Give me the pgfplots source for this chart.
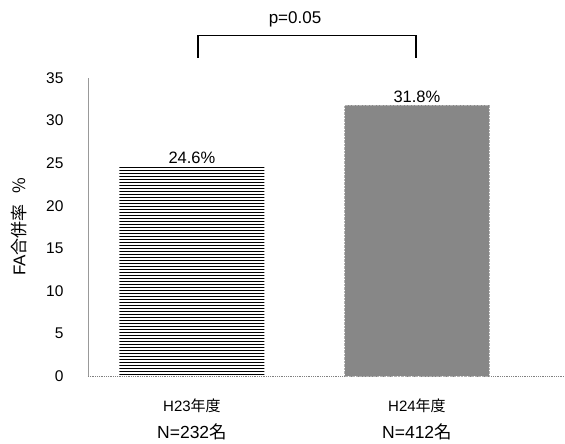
\documentclass[border=0pt]{standalone}
\usepackage{pgfplots}
\pgfplotsset{compat=1.18}
\usetikzlibrary{patterns}
\usepackage{fontspec}
\setmainfont{Liberation Sans}
\newfontfamily\cjk{Noto Sans CJK JP}
\newcommand\nl{\fontsize{17.5pt}{19pt}\selectfont}
\begin{document}
\fontsize{13pt}{15pt}\selectfont
\begin{tikzpicture}
\begin{axis}[
  scale only axis, width=477pt, height=298pt,
  at={(0pt,0pt)}, anchor=south west,
  xmin=-0.462, xmax=1.658, ymin=0, ymax=35,
  ytick={0,5,...,35},
  xtick={0,1},
  xticklabels={{H23\cjk{年度}\\[10pt]{\nl N=232\cjk{名}}},{H24\cjk{年度}\\[10pt]{\nl N=412\cjk{名}}}},
  xticklabel style={align=center, font=\fontsize{15pt}{17pt}\selectfont},
  x tick label style={yshift=-18pt},
  yticklabel style={xshift=-20pt, font=\fontsize{15.5pt}{17pt}\selectfont},
  major tick length=0pt,
  axis x line*=bottom, axis y line*=left,
  x axis line style={-, gray, densely dotted, line width=0.8pt},
  y axis line style={-, gray!80, line width=0.6pt},
  ylabel={FA\cjk{合併率}\hspace{0.6em}\%},
  every axis y label/.style={at={(axis description cs:0,0.5)}, anchor=center, rotate=90, yshift=69pt, font=\fontsize{17pt}{19pt}\selectfont},
  /pgf/number format/assume math mode=true,
  ybar, bar width=0.644, bar shift=0pt,
  clip=false,
  nodes near coords={\pgfmathprintnumber[fixed,precision=1]{\pgfplotspointmeta}\%},
  every node near coord/.append style={font=\fontsize{16.5pt}{18pt}\selectfont, yshift=-2pt},
]
\addplot[draw=none, pattern=horizontal lines, pattern color=black] coordinates {(0,24.6)};
\addplot[draw=gray!60, densely dotted, fill=black!47] coordinates {(1,31.8)};
\draw[line width=1.6pt, black] (axis cs:0.027,37.4) -- (axis cs:0.027,40.0) -- (axis cs:0.995,40.0) -- (axis cs:0.995,37.4);
\node[font=\fontsize{17pt}{19pt}\selectfont] at (axis cs:0.458,41.9) {p=0.05};
\end{axis}
\pgfresetboundingbox
\useasboundingbox (-88pt,-68pt) rectangle (477pt,376pt);
\end{tikzpicture}
\end{document}
